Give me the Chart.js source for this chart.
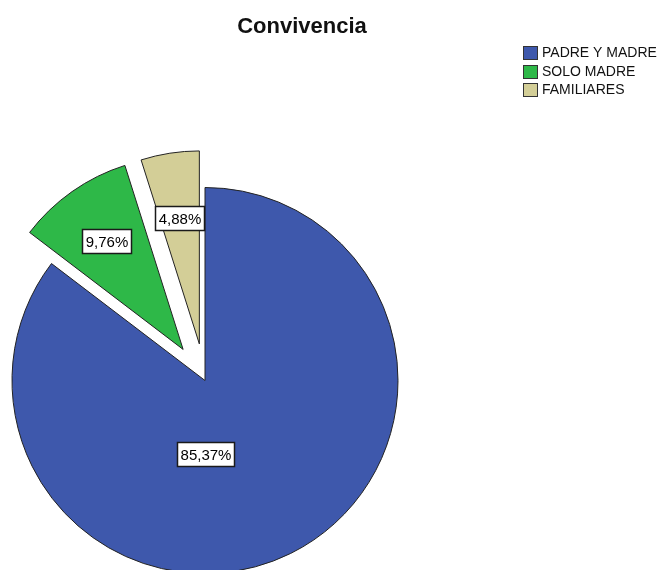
<!DOCTYPE html>
<html>
<head>
<meta charset="utf-8">
<title>Convivencia</title>
<script src="https://cdn.jsdelivr.net/npm/chart.js@4.4.1/dist/chart.umd.min.js"></script>
<style>
  html, body { margin: 0; padding: 0; background: #fff; overflow: hidden; }
  #wrap { position: relative; width: 661px; height: 570px; }
</style>
</head>
<body>
<div id="wrap"><canvas id="convivencia-chart" width="661" height="570"></canvas></div>
<script>
'use strict';

var categories = ['PADRE Y MADRE', 'SOLO MADRE', 'FAMILIARES'];
var percentages = [85.37, 9.76, 4.88];
var sliceColors = ['#3e58ac', '#2eb848', '#d3ce97'];
var chartTitle = 'Convivencia';

// pull-out distance of each slice along its bisector, in px
var explode = [0, 38, 37];

// where each percentage box sits: fraction of the radius from the slice tip,
// optionally along a fixed angle instead of the slice bisector
var labelSpots = [{ frac: 0.38, angle: Math.PI / 2 }, { frac: 0.69 }, { frac: 0.66 }];

var FONT = '"Liberation Sans", Arial, sans-serif';

function pct(v) {
    return v.toFixed(2).replace('.', ',') + '%';
}

// Chart.js's own arc offset also grows the radius and narrows the angle of
// the slice, so the slices are moved out here instead and keep their shape
var explodeSlices = {
    id: 'explodeSlices',
    afterDatasetsUpdate: function (chart) {
        chart.getDatasetMeta(0).data.forEach(function (arc, i) {
            var d = explode[i] || 0;
            var mid = (arc.startAngle + arc.endAngle) / 2;
            arc.x += Math.cos(mid) * d;
            arc.y += Math.sin(mid) * d;
        });
    }
};

var sliceLabels = {
    id: 'sliceLabels',
    afterDatasetsDraw: function (chart) {
        var ctx = chart.ctx;
        var meta = chart.getDatasetMeta(0);
        ctx.save();
        ctx.font = '15px ' + FONT;
        ctx.textAlign = 'center';
        ctx.textBaseline = 'middle';
        meta.data.forEach(function (arc, i) {
            var mid = (arc.startAngle + arc.endAngle) / 2;
            var spot = labelSpots[i];
            var dir = spot.angle !== undefined ? spot.angle : mid;
            var x = arc.x + Math.cos(dir) * spot.frac * arc.outerRadius;
            var y = arc.y + Math.sin(dir) * spot.frac * arc.outerRadius;
            var text = pct(percentages[i]);
            var w = Math.round(ctx.measureText(text).width + 6);
            var h = 24;
            var bx = Math.round(x - w / 2) + 0.5;
            var by = Math.round(y - h / 2) + 0.5;
            ctx.fillStyle = '#ffffff';
            ctx.fillRect(bx, by, w, h);
            ctx.lineWidth = 1.5;
            ctx.strokeStyle = '#1a1a1a';
            ctx.strokeRect(bx, by, w, h);
            ctx.fillStyle = '#000000';
            ctx.fillText(text, bx + w / 2, by + h / 2 + 1);
        });
        ctx.restore();
    }
};

var titleAndLegend = {
    id: 'titleAndLegend',
    afterDraw: function (chart) {
        var ctx = chart.ctx;
        var ds = chart.data.datasets[0];
        ctx.save();
        ctx.fillStyle = '#111111';
        ctx.font = 'bold 22px ' + FONT;
        ctx.textAlign = 'center';
        ctx.textBaseline = 'alphabetic';
        ctx.fillText(chartTitle, 302, 33);

        ctx.font = '14px ' + FONT;
        ctx.textAlign = 'left';
        ctx.textBaseline = 'middle';
        chart.data.labels.forEach(function (label, i) {
            var top = Math.round(46 + i * 18.5) + 0.5;
            ctx.fillStyle = ds.backgroundColor[i];
            ctx.fillRect(523.5, top, 14, 13);
            ctx.lineWidth = 1;
            ctx.strokeStyle = '#333333';
            ctx.strokeRect(523.5, top, 14, 13);
            ctx.fillStyle = '#111111';
            ctx.fillText(label, 542, top + 7);
        });
        ctx.restore();
    }
};

var canvas = document.getElementById('convivencia-chart');
new Chart(canvas, {
    type: 'pie',
    data: {
        labels: categories,
        datasets: [{
            data: percentages,
            backgroundColor: sliceColors,
            borderColor: '#222222',
            borderWidth: 1,
            borderJoinStyle: 'miter'
        }]
    },
    options: {
        responsive: false,
        animation: false,
        events: [],
        radius: 193,
        layout: { padding: { left: 0, right: 251, top: 191, bottom: 0 } },
        plugins: {
            legend: { display: false },
            title: { display: false },
            tooltip: { enabled: false }
        }
    },
    plugins: [explodeSlices, sliceLabels, titleAndLegend]
});
</script>
</body>
</html>
